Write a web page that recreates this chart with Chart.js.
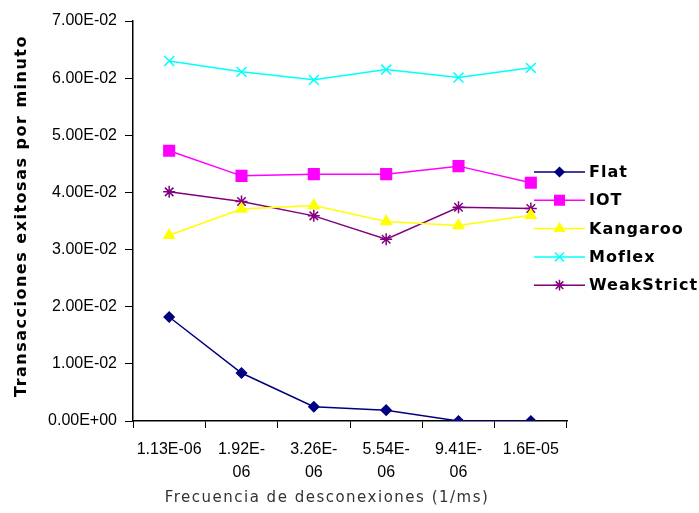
<!DOCTYPE html>
<html><head><meta charset="utf-8">
<script src="https://cdn.jsdelivr.net/npm/chart.js@4/dist/chart.umd.min.js"></script>
<style>html,body{margin:0;padding:0;background:#fff}#wrap{width:699px;height:513px}</style>
</head><body><div id="wrap"><canvas id="c" width="699" height="513"></canvas></div>
<script>
const categories = [["1.13E-06"], ["1.92E-","06"], ["3.26E-","06"], ["5.54E-","06"], ["9.41E-","06"], ["1.6E-05"]];
const flat = [0.0182, 0.0084, 0.0025, 0.0019, 0.0000, 0.0000];
const iot = [0.0473, 0.0429, 0.0432, 0.0432, 0.0446, 0.0417];
const kangaroo = [0.0325, 0.0371, 0.0377, 0.0349, 0.0342, 0.0360];
const moflex = [0.0630, 0.0611, 0.0597, 0.0615, 0.0601, 0.0618];
const weakStrict = [0.0401, 0.0384, 0.0359, 0.0318, 0.0374, 0.0372];
const yTicks = [0, 0.01, 0.02, 0.03, 0.04, 0.05, 0.06, 0.07];
const xTitle = 'Frecuencia de desconexiones (1/ms)';
const yTitle = 'Transacciones exitosas por minuto';

function ds(label, data, color, style, r) {
  return { label, data, borderColor: color, backgroundColor: color, pointStyle: style,
    pointRadius: r, pointHoverRadius: r, borderWidth: 1.5, pointBorderWidth: 1.5, tension: 0, fill: false };
}
const datasets = [
  ds('Flat', flat, '#000080', 'rectRot', 5),
  ds('IOT', iot, '#FF00FF', 'rect', 7.5),
  ds('Kangaroo', kangaroo, '#FFFF00', 'triangle', 6),
  ds('Moflex', moflex, '#00FFFF', 'crossRot', 7),
  ds('WeakStrict', weakStrict, '#800080', 'star', 6)
];

const extrasPlugin = {
  id: 'extras',
  afterDraw(chart) {
    const ctx = chart.ctx;
    ctx.save();
    const x0 = 534, x1 = 585, tx = 589, y0 = 172, dy = 28.3;
    chart.data.datasets.forEach((d, i) => {
      const y = y0 + i * dy;
      ctx.strokeStyle = d.borderColor; ctx.lineWidth = 1.5;
      ctx.beginPath(); ctx.moveTo(x0, y); ctx.lineTo(x1, y); ctx.stroke();
      ctx.fillStyle = d.backgroundColor; ctx.lineWidth = 1.5;
      Chart.helpers.drawPoint(ctx, { pointStyle: d.pointStyle, radius: d.pointRadius * 0.9, borderWidth: 1.5 }, (x0 + x1) / 2, y);
      ctx.fillStyle = '#000'; ctx.font = 'bold 16px "DejaVu Sans", sans-serif';
      ctx.letterSpacing = '1px';
      ctx.textAlign = 'left'; ctx.textBaseline = 'middle';
      ctx.fillText(d.label, tx, y + 1);
    });
    // x axis title
    ctx.fillStyle = '#333'; ctx.font = '15px "DejaVu Sans", sans-serif';
    ctx.letterSpacing = '1.5px';
    ctx.textAlign = 'center'; ctx.textBaseline = 'middle';
    ctx.fillText(xTitle, 327, 498);
    // y axis title
    ctx.translate(22, 216); ctx.rotate(-Math.PI / 2);
    ctx.fillStyle = '#000'; ctx.font = 'bold 16px "DejaVu Sans", sans-serif';
    ctx.letterSpacing = '1.5px';
    ctx.fillText(yTitle, 0, 0);
    ctx.restore();
  }
};

new Chart(document.getElementById('c'), {
  type: 'line',
  data: { labels: categories, datasets },
  options: {
    responsive: false, animation: false, devicePixelRatio: 1,
    layout: { padding: { top: 21, right: 132, left: 0, bottom: 0 } },
    plugins: { legend: { display: false }, tooltip: { enabled: false } },
    scales: {
      x: {
        offset: true,
        grid: { display: true, drawOnChartArea: false, drawTicks: true, tickLength: 7, offset: true, color: '#000' },
        border: { display: true, color: '#000', width: 1.5 },
        ticks: { color: '#000', font: { family: '"Liberation Sans", Arial, sans-serif', size: 16, lineHeight: 1.45 }, maxRotation: 0, autoSkip: false, padding: 10 },
        title: { display: false },
        afterFit(s) { s.height = 92; }
      },
      y: {
        min: 0, max: 0.07,
        afterBuildTicks(s) { s.ticks = yTicks.map(v => ({ value: v })); },
        grid: { display: true, drawOnChartArea: false, drawTicks: true, tickLength: 8, color: '#000' },
        border: { display: true, color: '#000', width: 1.5 },
        ticks: { color: '#000', font: { family: '"Liberation Sans", Arial, sans-serif', size: 16 }, padding: 8,
          callback: v => { const s = Number(v).toExponential(2).toUpperCase(); return s.replace(/E([+-])(\d)$/, 'E$10$2'); } },
        title: { display: false },
        afterFit(s) { s.width = 133; }
      }
    }
  },
  plugins: [extrasPlugin]
});
</script>
</body></html>
